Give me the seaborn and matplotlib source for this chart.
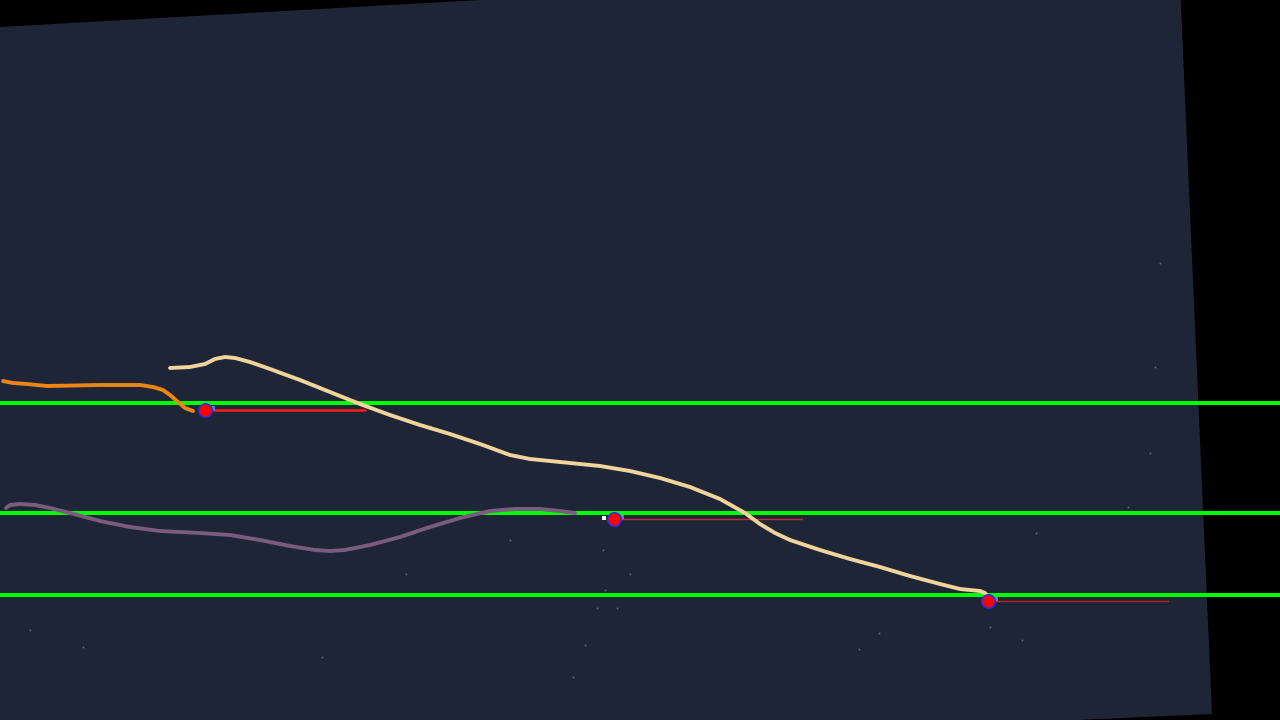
import matplotlib
matplotlib.use("Agg")
import matplotlib.pyplot as plt
import seaborn as sns
import pandas as pd
from matplotlib.patches import Polygon

sns.set_theme(style="dark")

# panel outline (pixel space)
panel_x = [0, 480, 1179, 1212, 1212, 0]
panel_y = [27, 0, -39, 714, 714, 768]

orange_x = [3, 13, 27, 47, 100, 140, 153, 163, 170, 178, 185, 193]
orange_y = [381, 383, 384, 386, 385, 385, 387, 390, 395, 402, 408, 411]

beige_x = [170, 190, 205, 215, 225, 235, 250, 270, 300, 330, 360, 390, 420, 450, 480, 510,
           530, 560, 600, 630, 660, 690, 720, 745, 760, 775, 790, 820, 850, 880, 910, 940,
           960, 980, 985, 988]
beige_y = [368, 367, 364, 359, 357, 358, 362, 369, 380, 392, 404, 415, 425, 434, 444, 455,
           459, 462, 466, 471, 478, 487, 499, 513, 524, 533, 540, 550, 559, 567, 576, 584,
           589, 591, 593, 597]

purple_x = [6, 10, 20, 35, 50, 70, 100, 130, 160, 200, 230, 260, 290, 315, 330, 345, 370,
            400, 430, 460, 490, 515, 540, 560, 575]
purple_y = [508, 505, 504, 505, 508, 513, 521, 527, 531, 533, 535, 540, 546, 550, 551, 550,
            545, 537, 527, 518, 511, 509, 509, 511, 513]

green_levels = [403, 513, 595]

dot_x = [205, 614, 988]
dot_y = [410, 519, 601]
seg_end_x = [365, 802, 1168]
seg_width = [1.8, 1.0, 1.0]
seg_color = ["#ff1a1a", "#c0303a", "#c02028"]

star_x = [1160, 1155, 1150, 1128, 1036, 630, 406, 510, 603, 605, 597, 617, 585, 573, 859,
          879, 1022, 990, 30, 83, 322, 430]
star_y = [263, 367, 453, 507, 533, 574, 574, 540, 550, 590, 608, 608, 645, 677, 649, 633,
          640, 627, 630, 647, 657, 426]

fig = plt.figure(figsize=(12.8, 7.2), dpi=100, facecolor="black")
ax = fig.add_axes([0, 0, 1, 1])
ax.set_facecolor("black")
ax.add_patch(Polygon(list(zip(panel_x, panel_y)), closed=True, facecolor="#1e2536",
                     edgecolor="none", zorder=0))

for lvl in green_levels:
    ax.axhline(lvl, color="#00ff00", lw=2.9, zorder=2)

for x0, y0, x1, w, c in zip(dot_x, dot_y, seg_end_x, seg_width, seg_color):
    ax.plot([x0, x1], [y0, y0], color=c, lw=w, zorder=3)

sns.lineplot(data=pd.DataFrame({"x": orange_x, "y": orange_y}), x="x", y="y", sort=False,
             estimator=None, color="#ec8512", lw=2.8, ax=ax, zorder=4)
sns.lineplot(data=pd.DataFrame({"x": purple_x, "y": purple_y}), x="x", y="y", sort=False,
             estimator=None, color="#7c5c7e", lw=2.8, ax=ax, zorder=4)
sns.lineplot(data=pd.DataFrame({"x": beige_x, "y": beige_y}), x="x", y="y", sort=False,
             estimator=None, color="#f0d49c", lw=2.8, ax=ax, zorder=4)

ax.scatter(star_x, star_y, s=2, color="#8090a8", alpha=0.6, linewidths=0, zorder=1)
ax.scatter([d + 8 for d in dot_x], [d - 2 for d in dot_y], s=8, color="#5a7fc0",
           marker="s", linewidths=0, zorder=5)
ax.scatter([d - 10 for d in dot_x[1:2]], [d - 1 for d in dot_y[1:2]], s=12, color="white",
           marker="s", linewidths=0, zorder=5)
ax.scatter(dot_x, dot_y, s=95, color="#ff0000", edgecolors="#1530ff", linewidths=1.0,
           zorder=6)

ax.set_xlim(0, 1280)
ax.set_ylim(720, 0)
ax.axis("off")
fig.savefig("out.png", dpi=100, facecolor="black")
